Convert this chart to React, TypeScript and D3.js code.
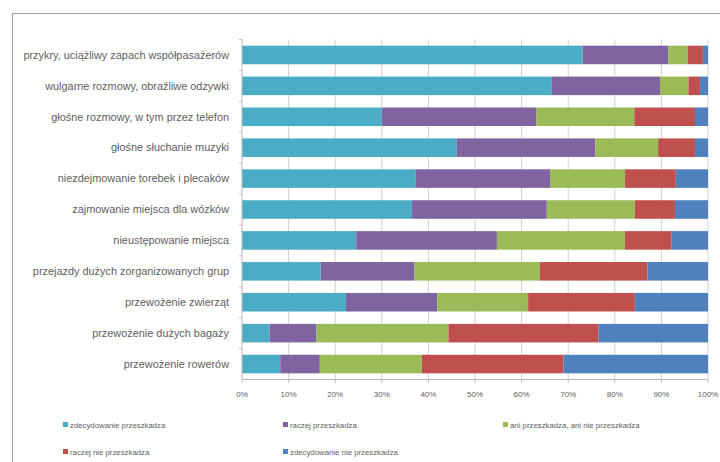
import React from "react";
import * as d3 from "d3";

const categories = [
  "przykry, uciążliwy zapach współpasażerów",
  "wulgarne rozmowy, obraźliwe odzywki",
  "głośne rozmowy, w tym przez telefon",
  "głośne słuchanie muzyki",
  "niezdejmowanie torebek i plecaków",
  "zajmowanie miejsca dla wózków",
  "nieustępowanie miejsca",
  "przejazdy dużych zorganizowanych grup",
  "przewożenie zwierząt",
  "przewożenie dużych bagaży",
  "przewożenie rowerów",
];

const seriesNames = [
  "zdecydowanie przeszkadza",
  "raczej przeszkadza",
  "ani przeszkadza, ani nie przeszkadza",
  "raczej nie przeszkadza",
  "zdecydowanie nie przeszkadza",
];

const zdecydowaniePrzeszkadza = [73.1, 66.5, 30.0, 46.1, 37.3, 36.5, 24.5, 16.9, 22.3, 5.9, 8.2];
const raczejPrzeszkadza = [18.4, 23.2, 33.2, 29.7, 28.8, 28.9, 30.2, 20.1, 19.6, 10.1, 8.5];
const aniAni = [4.1, 6.1, 21.0, 13.5, 16.1, 18.9, 27.5, 26.9, 19.5, 28.3, 21.9];
const raczejNie = [3.3, 2.5, 13.0, 7.9, 10.9, 8.6, 10.0, 23.1, 22.9, 32.2, 30.4];
const zdecydowanieNie = [1.1, 1.7, 2.8, 2.8, 6.9, 7.1, 7.8, 13.0, 15.7, 23.5, 31.0];

const tickLabels = ["0%", "10%", "20%", "30%", "40%", "50%", "60%", "70%", "80%", "90%", "100%"];

const colors = ["#4BACC6", "#8064A2", "#9BBB59", "#C0504D", "#4F81BD"];

export default function App() {
  const W = 720, H = 462;
  const x0 = 242, x1 = 708, yTop = 39.5, yBot = 379.5;
  const x = d3.scaleLinear().domain([0, 100]).range([x0, x1]);
  const y = d3.scaleBand().domain(categories).range([yTop, yBot]).paddingInner(0.4).paddingOuter(0.2);

  const rows = categories.map((c, i) => {
    const vals = [zdecydowaniePrzeszkadza[i], raczejPrzeszkadza[i], aniAni[i], raczejNie[i], zdecydowanieNie[i]];
    const total = d3.sum(vals);
    return { c, vals: vals.map((v) => (v / total) * 100) };
  });
  const stacked = d3.stack<any>().keys(seriesNames.map((_, k) => String(k)))(
    rows.map((r) => {
      const o: any = { c: r.c };
      r.vals.forEach((v, k) => (o[String(k)] = v));
      return o;
    })
  );

  const font = "'Liberation Sans', Arial, sans-serif";
  const textCol = "#606060";
  const legendPos = [
    [63, 425], [283, 425], [503, 425],
    [63, 452], [283, 452],
  ];

  return (
    <svg width={W} height={H} style={{ position: "absolute", left: 0, top: 0, background: "#fff" }}>
      <rect x={0} y={0} width={W} height={H} fill="#fff" />
      <path d={`M12.5,${H} V13.5 H${W}`} fill="none" stroke="#a0a0a0" strokeWidth={1.2} />
      {d3.range(1, 11).map((k) => (
        <line key={k} x1={x(k * 10)} x2={x(k * 10)} y1={yTop} y2={yBot} stroke="#d0d0d0" strokeWidth={1} />
      ))}
      {stacked.map((s, k) => (
        <g key={k} fill={colors[k]}>
          {s.map((d: any, i: number) => (
            <rect key={i} x={x(d[0])} y={y(categories[i])!} width={x(d[1]) - x(d[0])} height={y.bandwidth()} />
          ))}
        </g>
      ))}
      <line x1={x0} x2={x0} y1={yTop} y2={yBot} stroke="#b8b8b8" />
      <line x1={x0} x2={x1} y1={yBot} y2={yBot} stroke="#b8b8b8" />
      {categories.map((c, i) => (
        <line key={"yt" + i} x1={x0 - 3} x2={x0} y1={yTop + (i * (yBot - yTop)) / 11} y2={yTop + (i * (yBot - yTop)) / 11} stroke="#e0b0b0" />
      ))}
      {tickLabels.map((t, k) => (
        <g key={t}>
          <line x1={x(k * 10)} x2={x(k * 10)} y1={yBot} y2={yBot + 3} stroke="#b8b8b8" />
          <text x={x(k * 10)} y={yBot + 17} textAnchor="middle" fontSize={8} fontFamily={font} fill={textCol}>{t}</text>
        </g>
      ))}
      {categories.map((c) => (
        <text key={c} x={x0 - 13} y={y(c)! + y.bandwidth() / 2} dy="0.35em" textAnchor="end" fontSize={10.9} fontFamily={font} fill={textCol}>{c}</text>
      ))}
      {seriesNames.map((n, k) => (
        <g key={n}>
          <rect x={legendPos[k][0]} y={legendPos[k][1] - 3} width={5} height={5} fill={colors[k]} />
          <text x={legendPos[k][0] + 7} y={legendPos[k][1]} dy="0.35em" fontSize={7.8} fontFamily={font} fill={textCol}>{n}</text>
        </g>
      ))}
    </svg>
  );
}
